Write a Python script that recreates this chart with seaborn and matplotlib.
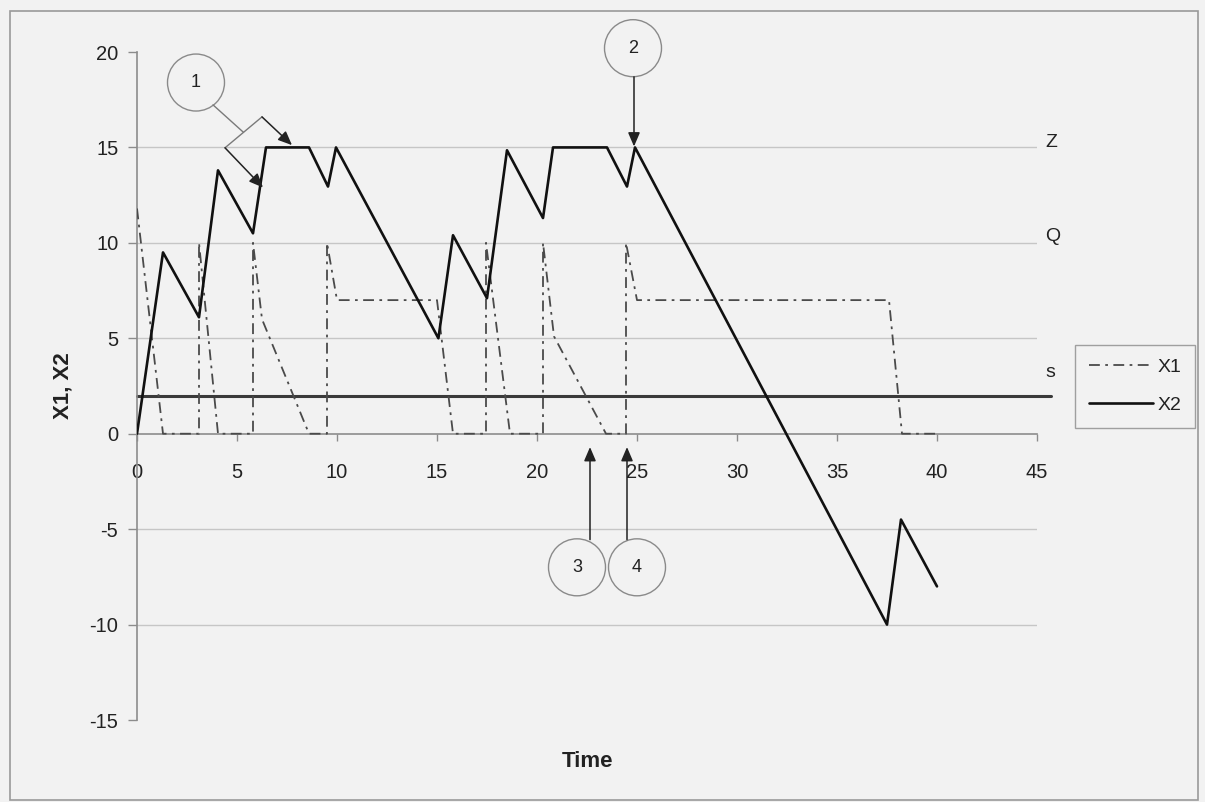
import matplotlib
matplotlib.use("Agg")
import matplotlib.pyplot as plt
from matplotlib.patches import Ellipse, Rectangle
from matplotlib.lines import Line2D
import pandas as pd
import seaborn as sns

# ---- data -------------------------------------------------------------
# X1: dash-dot series (jumps up, then drains back to zero)
x1_time = [0, 1.3, 3.1, 3.1, 4.05, 5.8, 5.8, 6.25, 8.6, 9.5, 9.5, 10.0,
           15.0, 15.8, 17.45, 17.45, 18.65, 20.3, 20.3, 20.85, 23.45,
           24.45, 24.45, 25.0, 37.6, 38.25, 40.0]
x1_level = [11.8, 0, 0, 10, 0, 0, 10, 6.0, 0, 0, 10, 7,
            7, 0, 0, 10, 0, 0, 10, 5.1, 0,
            0, 10, 7, 7, 0, 0]

# X2: solid series (saw-tooth, capped at Z)
x2_time = [0, 1.3, 3.1, 4.05, 5.8, 6.45, 8.6, 9.55, 9.95, 15.07, 15.8,
           17.5, 18.5, 20.3, 20.8, 23.5, 24.5, 24.9, 37.5, 38.2, 40.0]
x2_level = [0, 9.5, 6.1, 13.8, 10.5, 15, 15, 12.95, 15, 5.0, 10.4,
            7.1, 14.85, 11.3, 15, 15, 12.95, 15, -10, -4.5, -8]

# control levels drawn as reference lines
level_names = ["Z", "Q", "s"]
level_values = [15, 10, 2]

x_ticks = [0, 5, 10, 15, 20, 25, 30, 35, 40, 45]
y_ticks = [-15, -10, -5, 0, 5, 10, 15, 20]
grid_values = [15, 10, 5, -5, -10]

# numbered call-outs: (label, centre time, centre level)
callouts = [("1", 2.95, 18.4), ("2", 24.8, 20.2), ("3", 22.0, -7.0), ("4", 25.0, -7.0)]

# ---- styling ----------------------------------------------------------
sns.set_theme(style="white")
plt.rcParams["font.family"] = ["Liberation Sans", "DejaVu Sans"]
plt.rcParams["axes.unicode_minus"] = False

BG = "#f2f2f2"
TXT = "#222222"
AXC = "#8c8c8c"

W, H = 1205, 802
fig = plt.figure(figsize=(W / 100, H / 100), dpi=100, facecolor=BG)
ax = fig.add_axes([137 / W, 1 - 720 / H, 900 / W, 668 / H])
ax.set_facecolor(BG)

ax.set_xlim(0, 45)
ax.set_ylim(-15, 20)

for v in grid_values:
    ax.axhline(v, color="#c6c6c6", lw=1.0, zorder=1)

df1 = pd.DataFrame({"Time": x1_time, "X1": x1_level})
df2 = pd.DataFrame({"Time": x2_time, "X2": x2_level})

X1_STYLE = dict(color="#4a4a4a", lw=1.3, linestyle=(0, (6, 3, 1.5, 3)))
X2_STYLE = dict(color="#111111", lw=1.9, linestyle="-")

sns.lineplot(data=df1, x="Time", y="X1", sort=False, estimator=None,
             ax=ax, legend=False, zorder=3, **X1_STYLE)
sns.lineplot(data=df2, x="Time", y="X2", sort=False, estimator=None,
             ax=ax, legend=False, zorder=4, **X2_STYLE)

# reorder-level line s runs slightly past the axis end
s_val = level_values[2]
ax.plot([0, 45.7], [s_val, s_val], color="#3a3a3a", lw=2.2, zorder=2, clip_on=False)

label_offsets = {"Z": 0.25, "Q": 0.35, "s": 1.2}
for name, val in zip(level_names, level_values):
    ax.text(45.4, val + label_offsets[name], name, ha="left", va="center",
            fontsize=14, color=TXT, clip_on=False)

# axes
for side in ["top", "right"]:
    ax.spines[side].set_visible(False)
ax.spines["bottom"].set_position(("data", 0))
ax.spines["bottom"].set_color(AXC)
ax.spines["left"].set_color(AXC)
ax.spines["bottom"].set_linewidth(1.2)
ax.spines["left"].set_linewidth(1.2)
ax.spines["bottom"].set_zorder(2)

ax.set_xticks(x_ticks)
ax.set_yticks(y_ticks)
ax.tick_params(axis="x", direction="out", length=5, width=1, color=AXC,
               pad=16, labelsize=14.5, labelcolor=TXT, bottom=True)
ax.tick_params(axis="y", direction="out", length=6.5, width=1, color=AXC,
               pad=7, labelsize=14.5, labelcolor=TXT, left=True)
ax.grid(False)

ax.set_xlabel("Time", fontsize=16, fontweight="bold", color=TXT)
ax.set_ylabel("X1, X2", fontsize=16, fontweight="bold", color=TXT)
ax.xaxis.set_label_coords(0.5, -0.047)
ax.yaxis.set_label_coords(-0.071, 0.5)

# call-out circles with numbers
RX, RY = 28.5 / 20, 28.5 / 19.09
for lab, cx, cy in callouts:
    ax.add_patch(Ellipse((cx, cy), 2 * RX, 2 * RY, fill=False, edgecolor="#8a8a8a",
                         lw=1.0, clip_on=False, zorder=5))
    ax.text(cx, cy, lab, ha="center", va="center", fontsize=13, color=TXT,
            clip_on=False, zorder=6)

arrow_kw = dict(arrowstyle="-|>,head_length=0.7,head_width=0.3", color="#222222",
                lw=1.1, shrinkA=0, shrinkB=0)

# call-out 1: connector to a fork with two arrows
ax.plot([3.8, 5.325], [17.23, 15.79], color="#7a7a7a", lw=1.0, clip_on=False, zorder=5)
ax.plot([4.4, 6.25], [14.98, 16.6], color="#7a7a7a", lw=1.0, clip_on=False, zorder=5)
ax.annotate("", xy=(6.3, 12.9), xytext=(4.4, 14.98), arrowprops=arrow_kw,
            annotation_clip=False, zorder=6)
ax.annotate("", xy=(7.75, 15.12), xytext=(6.25, 16.6), arrowprops=arrow_kw,
            annotation_clip=False, zorder=6)

# call-out 2
ax.annotate("", xy=(24.85, 15.05), xytext=(24.85, 18.7), arrowprops=arrow_kw,
            annotation_clip=False, zorder=6)
# call-outs 3 and 4
ax.annotate("", xy=(22.65, -0.7), xytext=(22.65, -5.55), arrowprops=arrow_kw,
            annotation_clip=False, zorder=6)
ax.annotate("", xy=(24.5, -0.7), xytext=(24.5, -5.55), arrowprops=arrow_kw,
            annotation_clip=False, zorder=6)

# legend
handles = [Line2D([], [], **X1_STYLE), Line2D([], [], **X2_STYLE)]
leg = fig.legend(handles=handles, labels=["X1", "X2"], loc="upper left",
                 bbox_to_anchor=(1075 / W, 1 - 345 / H), borderaxespad=0,
                 frameon=True, fancybox=False, edgecolor="#8a8a8a", facecolor=BG,
                 fontsize=14, handlelength=3.3, handletextpad=0.25,
                 borderpad=0.7, labelspacing=1.05)
leg.get_frame().set_linewidth(1.0)
for t in leg.get_texts():
    t.set_color(TXT)

# outer chart frame
fig.patches.append(Rectangle((10 / W, 2 / H), 1188 / W, 789 / H, transform=fig.transFigure,
                             fill=False, edgecolor="#9a9a9a", lw=1.2))

fig.savefig("out.png", dpi=100, facecolor=BG)
